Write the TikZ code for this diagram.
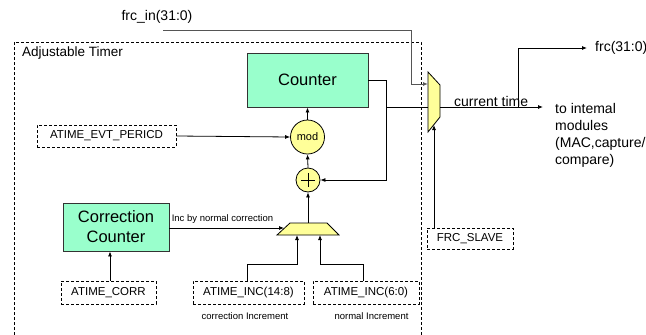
\documentclass[tikz,border=0pt]{standalone}
\usepackage{fontspec}
\setmainfont{Liberation Sans}
\usetikzlibrary{arrows.meta,calc}
\definecolor{boxgreen}{HTML}{99FFCC}
\definecolor{muxyellow}{HTML}{FFFF99}
\definecolor{wiregrey}{HTML}{555555}
\begin{document}
\begin{tikzpicture}[x=1pt,y=-1pt,
  greenbox/.style={draw=black!80,line width=0.9pt,fill=boxgreen,inner sep=0pt,align=center,font=\fontsize{16.5}{20}\selectfont},
  regbox/.style={draw,dashed,dash pattern=on 3pt off 2pt,line width=0.8pt,inner sep=0pt,font=\fontsize{11.5}{13}\selectfont},
  opcirc/.style={circle,draw,line width=0.8pt,fill=muxyellow,inner sep=0pt},
  wire/.style={line width=0.8pt},
  arr/.style={wire,-{Latex[length=5pt,width=4pt]}},
  lbl/.style={inner sep=0pt,font=\fontsize{14}{17}\selectfont},
  small/.style={inner sep=0pt,font=\fontsize{9.5}{11}\selectfont}]
\useasboundingbox (0,0) rectangle (646,335);

% outer dashed frame
\draw[dashed,dash pattern=on 3pt off 2pt,line width=0.8pt] (14,335) -- (14,42) -- (421,42) -- (421,335);
\node[lbl,anchor=west,font=\fontsize{13.5}{16}\selectfont] (title) at (22,53) {Adjustable Timer};

% blocks
\node[greenbox,minimum width=121pt,minimum height=54pt] (counter) at (307.5,80) {Counter};
\node[greenbox,minimum width=106pt,minimum height=48pt] (corr) at (116,227) {Correction\\Counter};
\node[regbox,minimum width=139pt,minimum height=22pt] (evt) at (106.5,136) {ATIME\_EVT\_PERICD};
\node[regbox,minimum width=95pt,minimum height=23pt] (acorr) at (108.5,292.5) {ATIME\_CORR};
\node[regbox,minimum width=111pt,minimum height=23pt] (inc148) at (248.5,292.5) {ATIME\_INC(14:8)};
\node[regbox,minimum width=106pt,minimum height=23pt] (inc60) at (366,292.5) {ATIME\_INC(6:0)};
\node[regbox,minimum width=86pt,minimum height=21pt] (slave) at (470,238.5) {FRC\_SLAVE};

\node[opcirc,minimum size=34pt,font=\fontsize{11}{13}\selectfont] (mod) at (307.5,137) {mod};
\node[opcirc,minimum size=24pt] (plus) at (308,180) {};
\draw[line width=0.9pt] ($(plus.center)+(-7,0)$) -- ($(plus.center)+(7,0)$)
      ($(plus.center)+(0,-7)$) -- ($(plus.center)+(0,7)$);

% bottom mux
\draw[line width=0.8pt,fill=muxyellow] (277,235) -- (290,223) -- (327,223) -- (339,235) -- cycle;
\coordinate (bmuxtop) at (308,223);
\coordinate (bmuxleft) at (284,228);
\coordinate (bmuxin1) at (297,235);
\coordinate (bmuxin2) at (320,235);

% right mux
\draw[line width=0.8pt,fill=muxyellow] (428,72) -- (440,85) -- (440,117) -- (428,132) -- cycle;
\coordinate (rmuxin) at (428,84);
\coordinate (rmuxmid) at (428,107);
\coordinate (rmuxout) at (440,107);
\coordinate (rmuxsel) at (434,125);

% connectors inside
\draw[arr] (mod.north) -- (counter.south);
\draw[arr] (plus.north) -- (mod.south);
\draw[arr] (evt.east) -- (mod.west);
\draw[arr] (bmuxtop) -- (plus.south);
\draw[arr] (corr.east |- bmuxleft) -- (bmuxleft);
\node[small,anchor=south] (inclbl) at (222.5,224) {Inc by normal correction};
\draw[arr] (acorr.north -| 110,0) -- (110,0 |- corr.south);
\draw[arr] (inc148.north -| 247,0) -- (247,264) -- (297,264) -- (bmuxin1);
\draw[arr] (inc60.north -| 363,0) -- (363,264) -- (320,264) -- (bmuxin2);
\node[small] (corrinc) at (245,316) {correction Increment};
\node[small] (norminc) at (371.5,316) {normal Increment};

\coordinate (fb) at (386,80);
\coordinate (fbj) at (386,107);
\draw[wire] (counter.east |- fb) -- (fb);
\draw[arr] (fb) -- (386,180) -- (plus.east);
\draw[wire] (fbj) -- (rmuxmid);

% right side
\node[lbl] (frcin) at (157,17) {frc\_in(31:0)};
\draw[arr,draw=wiregrey,line width=1pt] (163,30) -- (411,30) -- (411,84) -- (rmuxin);
\draw[arr] (slave.north -| rmuxsel) -- (rmuxsel);
\coordinate (outend) at (543,107);
\draw[arr] (rmuxout) -- (outend);
\node[lbl,anchor=west] (curtime) at (454,101) {current time};
\coordinate (brj) at (518,107);
\coordinate (frcend) at (587,48);
\draw[arr] (brj) -- (518,48) -- (frcend);
\node[lbl,anchor=west] (frc) at (595,48) {frc(31:0)};
\node[lbl,anchor=north west,align=left] (internal) at (555,103.5) {to intemal\\modules\\(MAC,capture/\\compare)};
\end{tikzpicture}
\end{document}
